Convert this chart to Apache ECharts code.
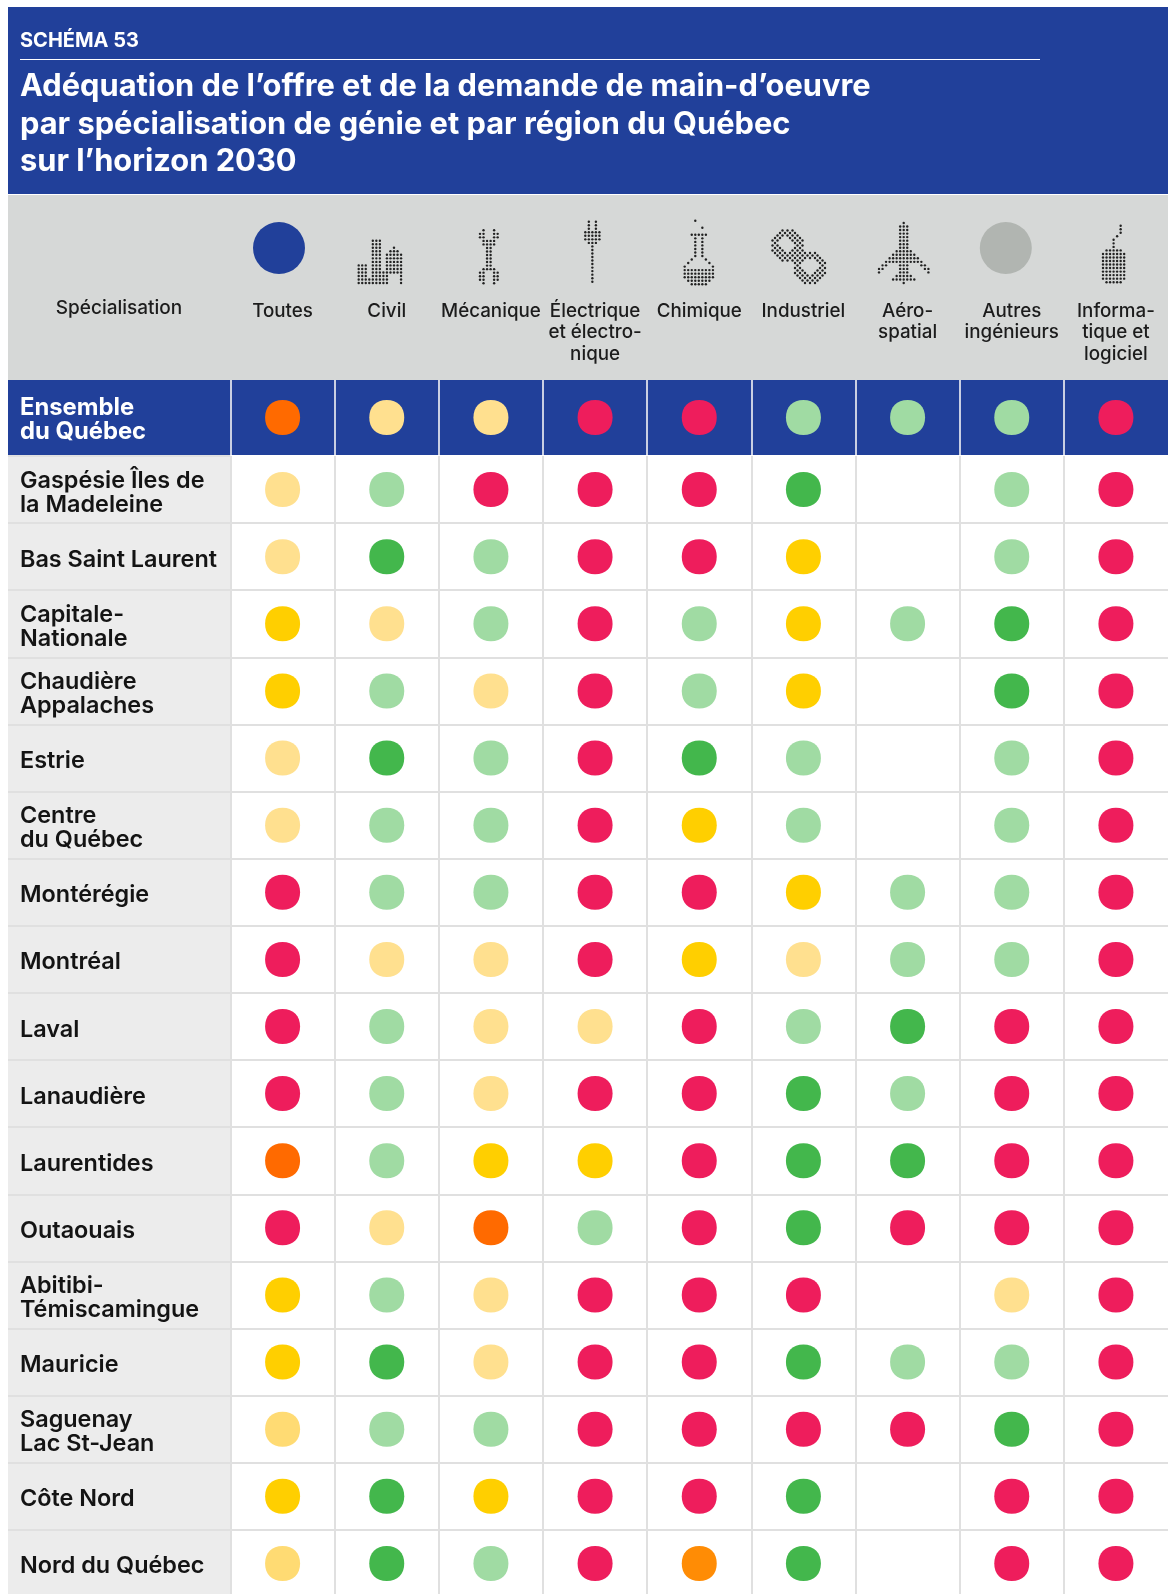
<!DOCTYPE html>
<html>
<head>
<meta charset="utf-8">
<script src="https://cdn.jsdelivr.net/npm/echarts@6/dist/echarts.min.js"></script>
<style>
html, body { margin: 0; padding: 0; background: #fff; overflow: hidden; }
#view { width: 1170px; height: 1594px; }
</style>
</head>
<body>
<div id="view"></div>
<script>
// R rouge, O orange, A ambre, Y jaune, P jaune pale, S jaune pale soutenu, L vert pale, G vert
var specialisations = ['Toutes', 'Civil', 'Mécanique', 'Électrique\net électro-\nnique', 'Chimique', 'Industriel', 'Aéro-\nspatial', 'Autres\ningénieurs', 'Informa-\ntique et\nlogiciel'];
var ensembleName = ['Ensemble\ndu Québec'];
var ensemble = ['O', 'P', 'P', 'R', 'R', 'L', 'L', 'L', 'R'];
var regions = ['Gaspésie Îles de\nla Madeleine', 'Bas Saint Laurent', 'Capitale-\nNationale', 'Chaudière\nAppalaches', 'Estrie', 'Centre\ndu Québec', 'Montérégie', 'Montréal', 'Laval', 'Lanaudière', 'Laurentides', 'Outaouais', 'Abitibi-\nTémiscamingue', 'Mauricie', 'Saguenay\nLac St-Jean', 'Côte Nord', 'Nord du Québec'];
var gaspesie = ['P', 'L', 'R', 'R', 'R', 'G', null, 'L', 'R'];
var basSaintLaurent = ['P', 'G', 'L', 'R', 'R', 'Y', null, 'L', 'R'];
var capitale = ['Y', 'P', 'L', 'R', 'L', 'Y', 'L', 'G', 'R'];
var chaudiere = ['Y', 'L', 'P', 'R', 'L', 'Y', null, 'G', 'R'];
var estrie = ['P', 'G', 'L', 'R', 'G', 'L', null, 'L', 'R'];
var centre = ['P', 'L', 'L', 'R', 'Y', 'L', null, 'L', 'R'];
var monteregie = ['R', 'L', 'L', 'R', 'R', 'Y', 'L', 'L', 'R'];
var montreal = ['R', 'P', 'P', 'R', 'Y', 'P', 'L', 'L', 'R'];
var laval = ['R', 'L', 'P', 'P', 'R', 'L', 'G', 'R', 'R'];
var lanaudiere = ['R', 'L', 'P', 'R', 'R', 'G', 'L', 'R', 'R'];
var laurentides = ['O', 'L', 'Y', 'Y', 'R', 'G', 'G', 'R', 'R'];
var outaouais = ['R', 'P', 'O', 'L', 'R', 'G', 'R', 'R', 'R'];
var abitibi = ['Y', 'L', 'P', 'R', 'R', 'R', null, 'P', 'R'];
var mauricie = ['Y', 'G', 'P', 'R', 'R', 'G', 'L', 'L', 'R'];
var saguenay = ['S', 'L', 'L', 'R', 'R', 'R', 'R', 'G', 'R'];
var coteNord = ['Y', 'G', 'Y', 'R', 'R', 'G', null, 'R', 'R'];
var nordQuebec = ['S', 'G', 'L', 'R', 'A', 'G', null, 'R', 'R'];
var regionLevels = [gaspesie, basSaintLaurent, capitale, chaudiere, estrie, centre, monteregie, montreal, laval, lanaudiere, laurentides, outaouais, abitibi, mauricie, saguenay, coteNord, nordQuebec];

var levelColors = { R: '#ee1d5c', O: '#ff6a00', A: '#ff8c05', Y: '#ffcf00', P: '#ffe08f', S: '#ffdb73', L: '#a0dba3', G: '#43b74c' };

var FONT = 'Inter';
var BLUE = '#21409a';
var LINE = '#e0e0e0';
var squircle = 'path://M50 0C81 0 100 19 100 50C100 81 81 100 50 100C19 100 0 81 0 50C0 19 19 0 50 0Z';

// pictogrammes en points
var icons = [
    { x: 358.7, y: 240.7, rows: ['....###......', '....###......', '....###...#..', '....###..###.', '....###.#####', '....###.#####', '....###.#####', '###.###.#####', '###.###.#####', '###.#########', '###.#####...#', '#########...#', '#########...#'] },
    { x: 480, y: 230.3, rows: ['.#..#.', '##..##', '##..##', '.####.', '.####.', '..##..', '..##..', '..##..', '..##..', '..##..', '..##..', '.####.', '##..##', '##..##', '##..##', '.#..#.'] },
    { x: 585.3, y: 221.7, rows: ['.#.#.', '.#.#.', '.#.#.', '#####', '#####', '#####', '.###.', '..#..', '..#..', '..#..', '..#..', '..#..', '..#..', '..#..', '..#..', '..#..', '..#..', '..#..'] },
    { x: 684.7, y: 220.7, rows: ['...#.....', '.........', '.....#...', '.........', '..#####..', '...#.#...', '...#.#...', '...#.#...', '...#.#...', '...#.#...', '...#.#...', '..#...#..', '.#.....#.', '#.......#', '#########', '#########', '#########', '.#######.', '..#####..'] },
    { x: 879, y: 223, rows: ['.......#.......', '......###......', '......###......', '......###......', '......###......', '......###......', '......###......', '......###......', '.....#####.....', '....#######....', '...#########...', '..###########..', '.##...###...##.', '##....###....##', '#.....###.....#', '.....#####.....', '....#######....', '.......#.......'] },
    { x: 1103, y: 225.7, rows: ['.....#.', '.....#.', '.....#.', '....#..', '...#...', '...#...', '...#...', '.#####.', '#######', '#######', '#######', '#######', '#######', '#######', '#######', '#######', '.#####.'] }
];

function dot(x, y) {
    return { type: 'circle', silent: true, shape: { cx: x, cy: y, r: 1.2 }, style: { fill: '#222' } };
}

function iconDots() {
    var out = [];
    icons.forEach(function (ic) {
        ic.rows.forEach(function (row, j) {
            row.split('').forEach(function (c, i) {
                if (c === '#') out.push(dot(ic.x + i * 3.53, ic.y + j * 3.53));
            });
        });
    });
    return out;
}

// Industriel : deux anneaux sur une trame a 45 degres
function inOctagon(dx, dy, r, k) {
    return Math.abs(dx) <= r && Math.abs(dy) <= r && Math.abs(dx) + Math.abs(dy) <= k * r;
}
function chainDots() {
    var out = [];
    for (var i = 0; i < 28; i++) {
        for (var j = 0; j < 28; j++) {
            if ((i + j) % 2) continue;
            var x = 770 + i * 2.5, y = 228 + j * 2.5;
            var inA = inOctagon(x - 787.3, y - 245.3, 17, 1.35), inB = inOctagon(x - 810, y - 267.7, 17, 1.35);
            var holeA = inOctagon(x - 787.3, y - 245.3, 8.5, 1.15), holeB = inOctagon(x - 810, y - 267.7, 8.5, 1.15);
            if ((inA || inB) && !holeA && !holeB) out.push(dot(x, y));
        }
    }
    return out;
}

function rect(x, y, w, h, fill) {
    return { type: 'rect', silent: true, z: -10, shape: { x: x, y: y, width: w, height: h }, style: { fill: fill } };
}

function points(levels, row) {
    var out = [];
    levels.forEach(function (lv, col) {
        if (lv) out.push({ value: [col, row], itemStyle: { color: levelColors[lv], opacity: 1 } });
    });
    return out;
}

// seule la premiere ligne porte le padding qui descend le bloc de texte
function richLines(name) {
    return name.split('\n').map(function (s, i) { return (i ? '{b|' : '{a|') + s + '}'; }).join('\n');
}

var regionPoints = [];
regionLevels.forEach(function (levels, r) {
    regionPoints = regionPoints.concat(points(levels, r));
});

var myChart = echarts.init(document.getElementById('view'), null, { renderer: 'canvas' });

var ensembleText = { color: '#fff', fontFamily: FONT, fontSize: 23.8, fontWeight: 700, lineHeight: 24 };
var regionText = { color: '#141414', fontFamily: FONT, fontSize: 23.4, fontWeight: 600, lineHeight: 24 };

var option = {
    animation: false,
    backgroundColor: '#fff',
    textStyle: { fontFamily: FONT },
    title: [
        { text: 'SCHÉMA 53', left: 20, top: 31, padding: 0, textStyle: { color: '#fff', fontFamily: FONT, fontSize: 20, fontWeight: 700 } },
        { text: 'Adéquation de l’offre et de la demande de main-d’oeuvre\npar spécialisation de génie et par région du Québec\nsur l’horizon 2030', left: 20, top: 68.5, padding: 0,
          textStyle: { color: '#fff', fontFamily: FONT, fontSize: 30.8, fontWeight: 700, lineHeight: 37.2 } },
        { text: 'Spécialisation', left: 119, top: 299, padding: 0, textAlign: 'center', textStyle: { color: '#1c1c1c', fontFamily: FONT, fontSize: 19, fontWeight: 500 } }
    ],
    grid: [
        { left: 230.5, top: 380, width: 937.5, height: 75, outerBoundsMode: 'none' },
        { left: 230.5, top: 456, width: 937.5, height: 1141, outerBoundsMode: 'none' }
    ],
    xAxis: [
        { gridIndex: 0, type: 'category', position: 'top', data: specialisations,
          axisLine: { show: false }, axisTick: { show: false },
          axisLabel: { interval: 0, margin: 80, verticalAlign: 'top', color: '#1c1c1c', fontFamily: FONT, fontSize: 18.8, fontWeight: 500, lineHeight: 21.8 },
          splitLine: { show: true, showMaxLine: false, lineStyle: { color: '#c9cfe3', width: 2 } } },
        { gridIndex: 1, type: 'category', data: specialisations,
          axisLine: { show: false }, axisTick: { show: false }, axisLabel: { show: false },
          splitLine: { show: true, showMaxLine: false, lineStyle: { color: LINE, width: 2 } } }
    ],
    yAxis: [
        { gridIndex: 0, type: 'category', inverse: true, data: ensembleName,
          axisLine: { show: false }, axisTick: { show: false },
          axisLabel: { align: 'left', margin: 210.5, formatter: richLines,
            rich: { a: Object.assign({}, ensembleText, { lineHeight: 28, padding: [4, 0, 0, 0] }), b: ensembleText } } },
        { gridIndex: 1, type: 'category', inverse: true, data: regions,
          axisLine: { show: false },
          axisTick: { show: true, length: 222.5, lineStyle: { color: LINE, width: 2 } },
          axisLabel: { interval: 0, align: 'left', margin: 210.5, formatter: richLines,
            rich: { a: Object.assign({}, regionText, { lineHeight: 30, padding: [6, 0, 0, 0] }), b: regionText } },
          splitLine: { show: true, showMinLine: false, lineStyle: { color: LINE, width: 2 } } }
    ],
    series: [
        { type: 'scatter', xAxisIndex: 0, yAxisIndex: 0, symbol: squircle, symbolSize: 35, silent: true, data: points(ensemble, 0) },
        { type: 'scatter', xAxisIndex: 1, yAxisIndex: 1, symbol: squircle, symbolSize: 35, silent: true, data: regionPoints }
    ],
    graphic: [
        rect(8, 7, 1160, 187, BLUE),
        rect(8, 195, 1160, 185, '#d6d8d7'),
        rect(8, 380, 1160, 75, BLUE),
        rect(8, 456, 222.5, 1138, '#ececec'),
        { type: 'line', silent: true, shape: { x1: 20, y1: 59.5, x2: 1040, y2: 59.5 }, style: { stroke: '#fff', lineWidth: 1 } },
        { type: 'circle', silent: true, shape: { cx: 279, cy: 248, r: 26 }, style: { fill: BLUE } },
        { type: 'circle', silent: true, shape: { cx: 1005.8, cy: 248, r: 26 }, style: { fill: '#b1b5b1' } }
    ].concat(iconDots(), chainDots())
};

myChart.setOption(option);
</script>
</body>
</html>
